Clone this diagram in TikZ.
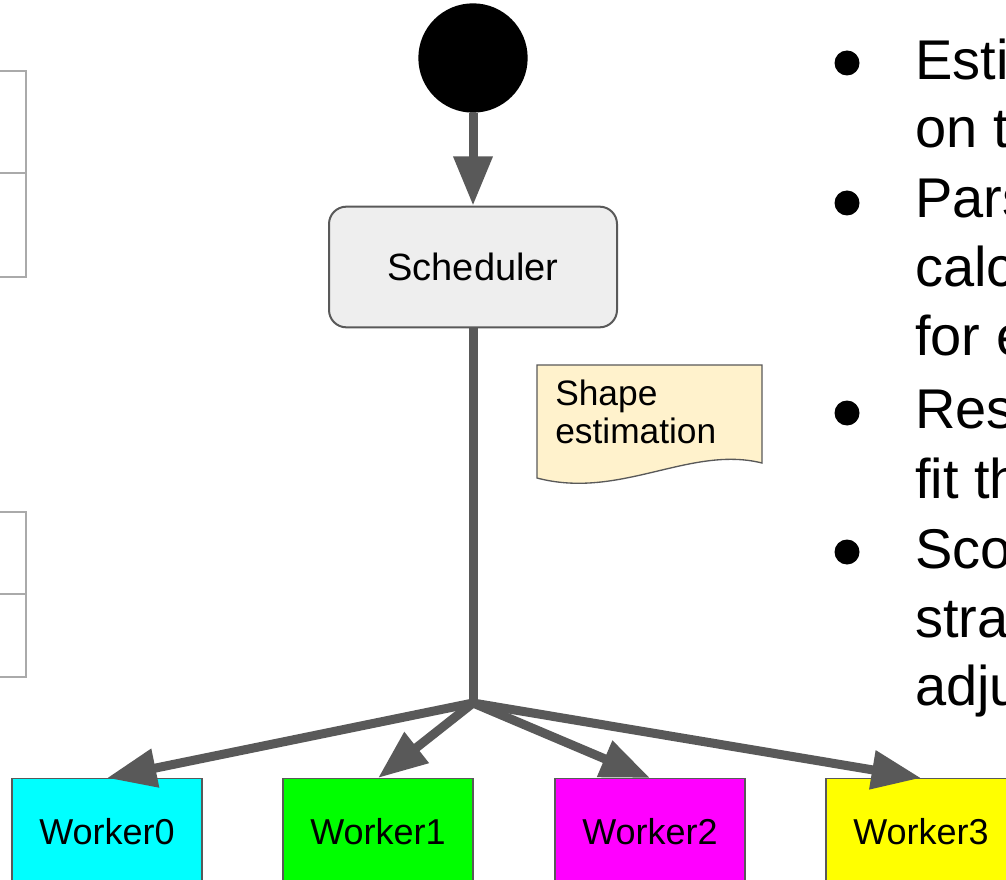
\documentclass[tikz,border=0pt]{standalone}
\usepackage{fontspec}
\setmainfont{Liberation Sans}
\usetikzlibrary{arrows.meta}
\definecolor{edgegrey}{HTML}{595959}
\definecolor{boxgrey}{HTML}{EEEEEE}
\definecolor{notefill}{HTML}{FFF2CC}
\definecolor{tablegrey}{HTML}{AAAAAA}
\definecolor{workcyan}{HTML}{00FFFF}
\definecolor{workgreen}{HTML}{00FF00}
\definecolor{workmagenta}{HTML}{FF00FF}
\definecolor{workyellow}{HTML}{FFFF00}
\begin{document}
\begin{tikzpicture}[x=0.75pt, y=-0.75pt,
  flow/.style = {draw=edgegrey, line width=6.75pt},
  arrow/.style = {flow, -{Triangle[length=37pt, width=28pt]}},
  worker/.style = {draw=edgegrey, line width=1pt, minimum width=142.5pt, minimum height=80pt, inner sep=0pt, font=\fontsize{27}{32}\selectfont},
  bullet/.style = {circle, fill=black, inner sep=0pt, minimum size=18.75pt},
  item/.style = {anchor=base west, inner sep=0pt, font=\fontsize{42}{50}\selectfont}]
\clip (0,0) rectangle (1006,880);

% tables cut off at the left
\draw[tablegrey, line width=1.5pt] (-20,71) rectangle (26,277);
\draw[tablegrey, line width=1.5pt] (-20,173) -- (26,173);
\draw[tablegrey, line width=1.5pt] (-20,512) rectangle (26,677);
\draw[tablegrey, line width=1.5pt] (-20,594) -- (26,594);

% flow
\node[circle, fill=black, minimum size=82pt, inner sep=0pt] (start) at (473,58) {};
\node[draw=edgegrey, fill=boxgrey, line width=1.5pt, rounded corners=13pt, minimum width=216pt, minimum height=90.5pt, font=\fontsize{28.5}{34}\selectfont] (sched) at (473,267) {Scheduler};
\coordinate (split) at (473,703);

\node[worker, fill=workcyan] (w0) at (107,832) {Worker0};
\node[worker, fill=workgreen] (w1) at (378,832) {Worker1};
\node[worker, fill=workmagenta] (w2) at (650,832) {Worker2};
\node[worker, fill=workyellow] (w3) at (921,832) {Worker3};

\draw[arrow] (start) -- (sched);
\draw[flow] (sched) -- (split);
\draw[arrow] (split) -- (w0.north);
\draw[arrow] (split) -- (w1.north);
\draw[arrow] (split) -- (w2.north);
\draw[arrow] (split) -- (w3.north);

% note
\draw[edgegrey, fill=notefill, line width=1pt] (537,365) -- (762,365) -- (762,463)
  .. controls (690,445) and (620,500) .. (537,478) -- cycle;
\node[anchor=west, align=left, inner sep=0pt, font=\fontsize{26.5}{28}\selectfont] (note) at (555,412) {Shape\\estimation};

% bullet list cut off at the right
\node[bullet] (b1) at (847,63) {};
\node[bullet] (b2) at (847,203) {};
\node[bullet] (b3) at (847,413) {};
\node[bullet] (b4) at (847,552) {};
\node[item] (t1) at (915,80) {Esti};
\node[item] (t2) at (915,148) {on t};
\node[item] (t3) at (915,218) {Pars};
\node[item] (t4) at (915,287) {calc};
\node[item] (t5) at (915,355) {for e};
\node[item] (t6) at (915,428) {Res};
\node[item] (t7) at (915,498) {fit th};
\node[item] (t8) at (915,568) {Sco};
\node[item] (t9) at (915,637) {stra};
\node[item] (t10) at (915,705) {adju};
\end{tikzpicture}
\end{document}
